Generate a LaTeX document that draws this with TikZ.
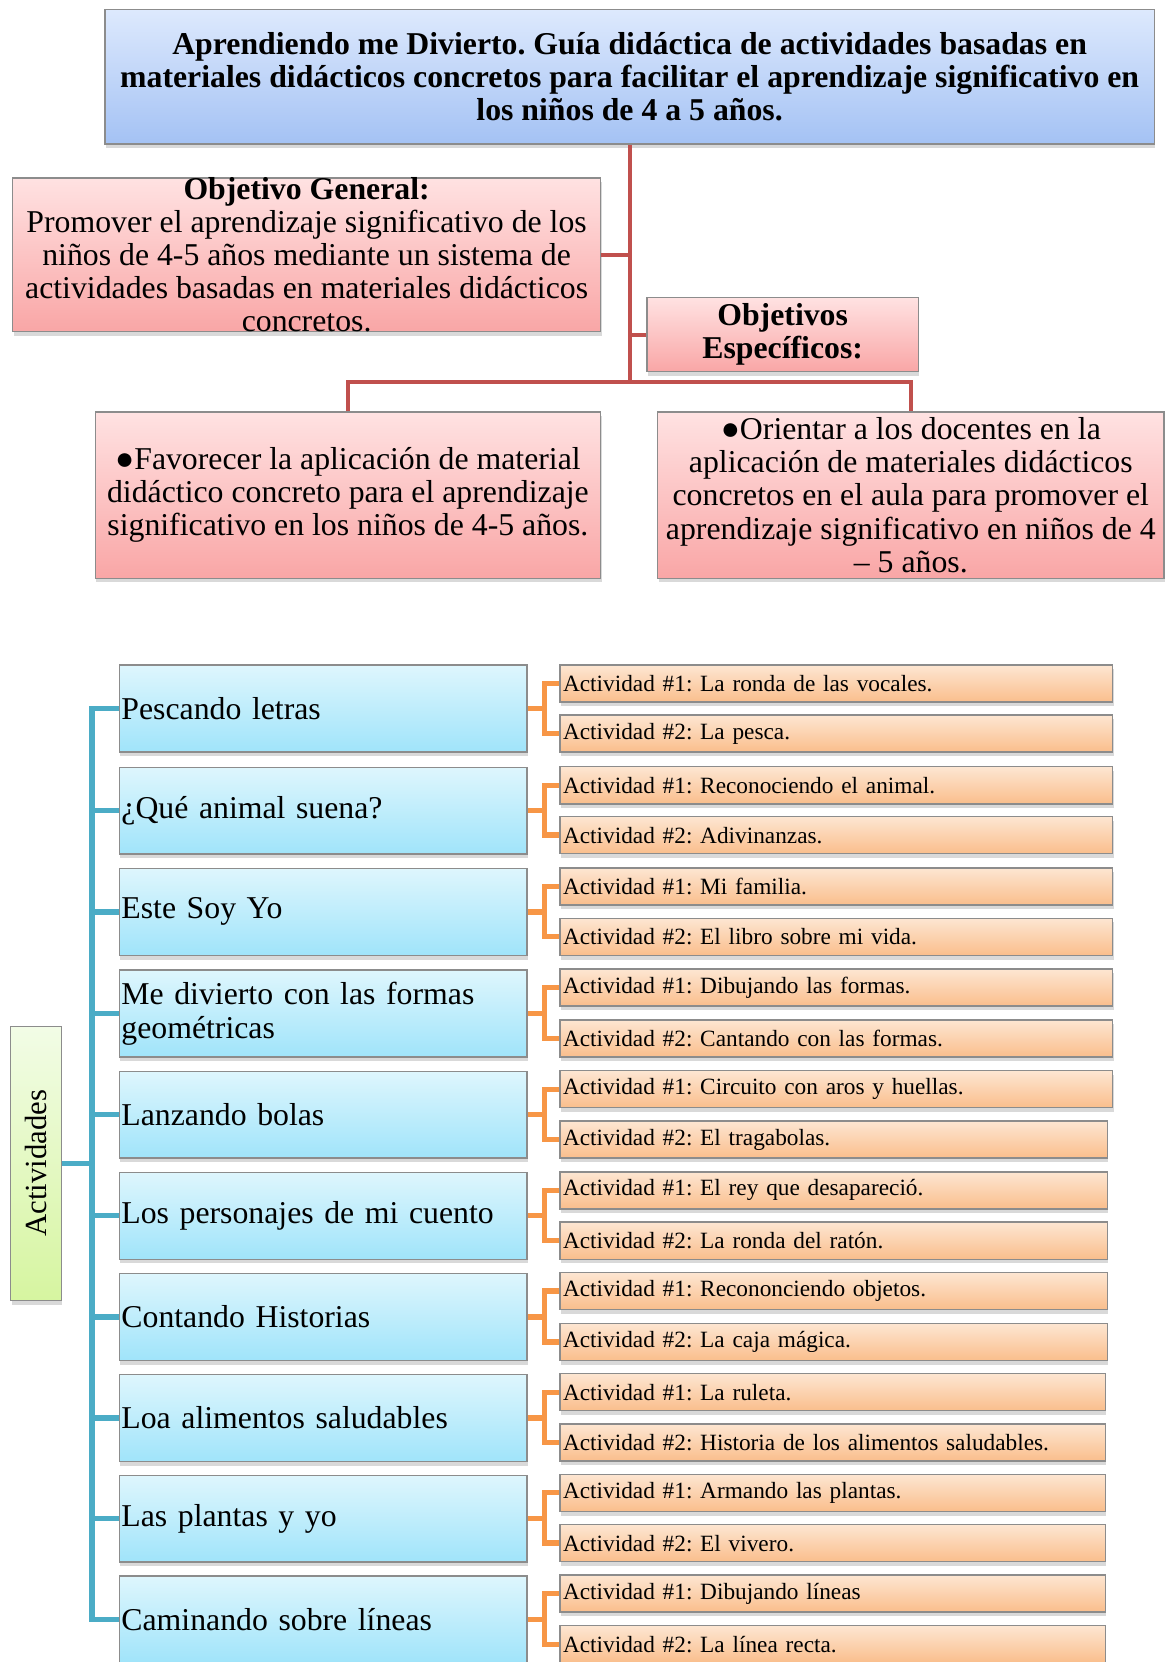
\documentclass[tikz,border=0pt]{standalone}
\usepackage{fontspec}
\setmainfont{Liberation Serif}
\frenchspacing
\usetikzlibrary{shadows}
\definecolor{cRed}{RGB}{192,80,77}
\definecolor{cTeal}{RGB}{75,172,198}
\definecolor{cOrange}{RGB}{247,150,70}
\definecolor{cEdge}{RGB}{140,140,140}
\definecolor{titletop}{RGB}{221,233,253}
\definecolor{titlebot}{RGB}{164,194,244}
\definecolor{pinktop}{RGB}{255,226,226}
\definecolor{pinkbot}{RGB}{249,166,166}
\definecolor{bluetop}{RGB}{222,246,253}
\definecolor{bluebot}{RGB}{160,228,250}
\definecolor{orangetop}{RGB}{253,230,210}
\definecolor{orangebot}{RGB}{250,190,140}
\definecolor{greentop}{RGB}{242,252,230}
\definecolor{greenbot}{RGB}{214,245,160}
\tikzset{
  box/.style={draw=cEdge, line width=1.3pt, inner ysep=0pt, inner xsep=4pt,
    drop shadow={opacity=0.3, shadow xshift=1pt, shadow yshift=-4pt}},
  titlebox/.style={box, top color=titletop, bottom color=titlebot,
    minimum width=991pt, minimum height=127pt, align=center,
    font=\bfseries\fontsize{30}{31.3}\selectfont},
  pinkbox/.style={box, top color=pinktop, bottom color=pinkbot, align=center,
    font=\fontsize{30}{31.3}\selectfont},
  bluebox/.style={box, anchor=west, top color=bluetop, bottom color=bluebot,
    minimum height=82pt, text width=381pt, inner xsep=2pt, align=left,
    font=\fontsize{30}{32}\selectfont},
  orangebox/.style={box, anchor=west, top color=orangetop, bottom color=orangebot,
    minimum height=35pt, text width=#1, inner xsep=3pt, align=left,
    font=\fontsize{22}{26}\selectfont},
  orangebox/.default=516pt,
  greenbox/.style={box, top color=greentop, bottom color=greenbot,
    minimum width=48pt, minimum height=259pt, inner sep=0pt,
    font=\fontsize{29}{32}\selectfont},
  rline/.style={draw=cRed, line width=4pt},
  tline/.style={draw=cTeal, line width=5pt},
  oline/.style={draw=cOrange, line width=5pt}
}
\begin{document}
\begin{tikzpicture}[x=1pt,y=-1pt]
\useasboundingbox (0,0) rectangle (1100,1569.3);
%
\node[titlebox] (tit) at (594.5,72.5) {Aprendiendo me Divierto. Guía didáctica de actividades basadas en\\
  materiales didácticos concretos para facilitar el aprendizaje significativo en\\
  los niños de 4 a 5 años.};
\node[pinkbox, minimum width=555pt, minimum height=145pt, inner ysep=-2pt] (og) at (289.5,240.5)
  {\textbf{Objetivo General:}\\ Promover el aprendizaje significativo de los\\
  niños de 4-5 años mediante un sistema de\\ actividades basadas en materiales didácticos\\ concretos.};
\node[pinkbox, minimum width=256pt, minimum height=70pt, font=\bfseries\fontsize{30}{31.3}\selectfont] (oe) at (739,316)
  {Objetivos\\ Específicos:};
\node[pinkbox, minimum width=477pt, minimum height=157pt] (oe1) at (328.5,467.5)
  {●Favorecer la aplicación de material\\ didáctico concreto para el aprendizaje\\
  significativo en los niños de 4-5 años.};
\node[pinkbox, minimum width=478pt, minimum height=157pt] (oe2) at (860,467.5)
  {●Orientar a los docentes en la\\ aplicación de materiales didácticos\\
  concretos en el aula para promover el\\ aprendizaje significativo en niños de 4\\ – 5 años.};
%
\coordinate (hub) at (594.5,361);
\draw[rline] (tit.south) -- (hub);
\draw[rline] (og.east) -- (og.east -| tit.south);
\draw[rline] (oe.west) -- (oe.west -| tit.south);
\draw[rline] (oe1.north) |- (hub) -| (oe2.north);
%
\node[greenbox] (act) at (34,1098.5) {\rotatebox{90}{Actividades}};
%
\node[bluebox] (t1) at (112,669) {Pescando letras};
\node[bluebox] (t2) at (112,765.5) {¿Qué animal suena?};
\node[bluebox] (t3) at (112,861) {Este Soy Yo};
\node[bluebox] (t4) at (112,957) {Me divierto con las formas\\ geométricas};
\node[bluebox] (t5) at (112,1052.5) {Lanzando bolas};
\node[bluebox] (t6) at (112,1148) {Los personajes de mi cuento};
\node[bluebox] (t7) at (112,1243.5) {Contando Historias};
\node[bluebox] (t8) at (112,1339) {Loa alimentos saludables};
\node[bluebox] (t9) at (112,1434) {Las plantas y yo};
\node[bluebox] (t10) at (112,1529) {Caminando sobre líneas};
%
\node[orangebox] (a1) at (528,645.5) {Actividad \#1: La ronda de las vocales.};
\node[orangebox] (b1) at (528,692.5) {Actividad \#2: La pesca.};
\node[orangebox] (a2) at (528,741.5) {Actividad \#1: Reconociendo el animal.};
\node[orangebox] (b2) at (528,788.5) {Actividad \#2: Adivinanzas.};
\node[orangebox] (a3) at (528,837) {Actividad \#1: Mi familia.};
\node[orangebox] (b3) at (528,884.5) {Actividad \#2: El libro sobre mi vida.};
\node[orangebox] (a4) at (528,932.5) {Actividad \#1: Dibujando las formas.};
\node[orangebox] (b4) at (528,980.5) {Actividad \#2: Cantando con las formas.};
\node[orangebox] (a5) at (528,1028.5) {Actividad \#1: Circuito con aros y huellas.};
\node[orangebox=511pt] (b5) at (528,1076) {Actividad \#2: El tragabolas.};
\node[orangebox=511pt] (a6) at (528,1124) {Actividad \#1: El rey que desapareció.};
\node[orangebox=511pt] (b6) at (528,1171.5) {Actividad \#2: La ronda del ratón.};
\node[orangebox=511pt] (a7) at (528,1219) {Actividad \#1: Recononciendo objetos.};
\node[orangebox=511pt] (b7) at (528,1267) {Actividad \#2: La caja mágica.};
\node[orangebox=509pt] (a8) at (528,1314.5) {Actividad \#1: La ruleta.};
\node[orangebox=509pt] (b8) at (528,1362) {Actividad \#2: Historia de los alimentos saludables.};
\node[orangebox=509pt] (a9) at (528,1409.5) {Actividad \#1: Armando las plantas.};
\node[orangebox=509pt] (b9) at (528,1457) {Actividad \#2: El vivero.};
\node[orangebox=509pt] (a10) at (528,1504.5) {Actividad \#1: Dibujando líneas};
\node[orangebox=509pt] (b10) at (528,1552.5) {Actividad \#2: La línea recta.};
%
\coordinate (tk) at (87,1098.5);
\draw[tline] (act.east) -- (tk);
\draw[tline] (t1.west) -| (tk) |- (t10.west);
\draw[tline] (t2.west) -- (t2.west -| tk);
\draw[tline] (t3.west) -- (t3.west -| tk);
\draw[tline] (t4.west) -- (t4.west -| tk);
\draw[tline] (t5.west) -- (t5.west -| tk);
\draw[tline] (t6.west) -- (t6.west -| tk);
\draw[tline] (t7.west) -- (t7.west -| tk);
\draw[tline] (t8.west) -- (t8.west -| tk);
\draw[tline] (t9.west) -- (t9.west -| tk);
%
\draw[oline] (t1.east) -- ++(17pt,0);
\draw[oline] (a1.west) -- ++(-14pt,0) |- (b1.west);
\draw[oline] (t2.east) -- ++(17pt,0);
\draw[oline] (a2.west) -- ++(-14pt,0) |- (b2.west);
\draw[oline] (t3.east) -- ++(17pt,0);
\draw[oline] (a3.west) -- ++(-14pt,0) |- (b3.west);
\draw[oline] (t4.east) -- ++(17pt,0);
\draw[oline] (a4.west) -- ++(-14pt,0) |- (b4.west);
\draw[oline] (t5.east) -- ++(17pt,0);
\draw[oline] (a5.west) -- ++(-14pt,0) |- (b5.west);
\draw[oline] (t6.east) -- ++(17pt,0);
\draw[oline] (a6.west) -- ++(-14pt,0) |- (b6.west);
\draw[oline] (t7.east) -- ++(17pt,0);
\draw[oline] (a7.west) -- ++(-14pt,0) |- (b7.west);
\draw[oline] (t8.east) -- ++(17pt,0);
\draw[oline] (a8.west) -- ++(-14pt,0) |- (b8.west);
\draw[oline] (t9.east) -- ++(17pt,0);
\draw[oline] (a9.west) -- ++(-14pt,0) |- (b9.west);
\draw[oline] (t10.east) -- ++(17pt,0);
\draw[oline] (a10.west) -- ++(-14pt,0) |- (b10.west);
%
\end{tikzpicture}
\end{document}
